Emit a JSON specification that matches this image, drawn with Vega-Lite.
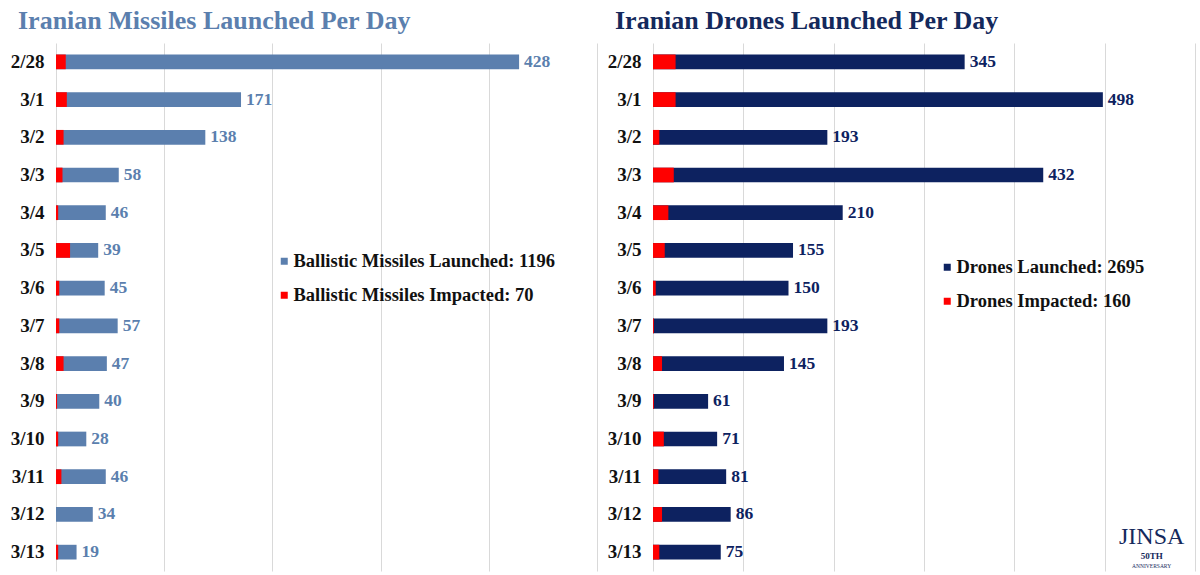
{
  "$schema": "https://vega.github.io/schema/vega-lite/v6.json",
  "description": "Iranian missiles and drones launched per day, with the impacted share in red.",
  "padding": {"left": 6, "right": 5, "top": 8, "bottom": 3},
  "background": "white",
  "data": {
    "values": [
      {"date": "2/28", "missiles": 428, "missiles_impacted": 9, "drones": 345, "drones_impacted": 25},
      {"date": "3/1", "missiles": 171, "missiles_impacted": 10, "drones": 498, "drones_impacted": 25},
      {"date": "3/2", "missiles": 138, "missiles_impacted": 7, "drones": 193, "drones_impacted": 7},
      {"date": "3/3", "missiles": 58, "missiles_impacted": 6, "drones": 432, "drones_impacted": 23},
      {"date": "3/4", "missiles": 46, "missiles_impacted": 2, "drones": 210, "drones_impacted": 17},
      {"date": "3/5", "missiles": 39, "missiles_impacted": 13, "drones": 155, "drones_impacted": 13},
      {"date": "3/6", "missiles": 45, "missiles_impacted": 3, "drones": 150, "drones_impacted": 3},
      {"date": "3/7", "missiles": 57, "missiles_impacted": 3, "drones": 193, "drones_impacted": 1},
      {"date": "3/8", "missiles": 47, "missiles_impacted": 7, "drones": 145, "drones_impacted": 10},
      {"date": "3/9", "missiles": 40, "missiles_impacted": 1, "drones": 61, "drones_impacted": 1},
      {"date": "3/10", "missiles": 28, "missiles_impacted": 2, "drones": 71, "drones_impacted": 12},
      {"date": "3/11", "missiles": 46, "missiles_impacted": 5, "drones": 81, "drones_impacted": 6},
      {"date": "3/12", "missiles": 34, "missiles_impacted": 0, "drones": 86, "drones_impacted": 10},
      {"date": "3/13", "missiles": 19, "missiles_impacted": 2, "drones": 75, "drones_impacted": 7}
    ]
  },
  "spacing": 6,
  "hconcat": [
    {
      "width": 541,
      "height": 528,
      "title": {
        "text": "Iranian Missiles Launched Per Day",
        "color": "#5b7fae",
        "dx": -38
      },
      "encoding": {
        "y": {
          "field": "date",
          "type": "nominal",
          "sort": null,
          "scale": {"paddingInner": 0.61, "paddingOuter": 0.305},
          "axis": {"title": null}
        }
      },
      "layer": [
        {
          "mark": "bar",
          "encoding": {
            "x": {
              "field": "missiles",
              "type": "quantitative",
              "scale": {"domain": [0, 500]},
              "axis": {"values": [0, 100, 200, 300, 400, 500]}
            },
            "color": {
              "datum": "Ballistic Missiles Launched: 1196",
              "type": "nominal",
              "scale": {
                "domain": ["Ballistic Missiles Launched: 1196", "Ballistic Missiles Impacted: 70"],
                "range": ["#5b7fae", "#ff0000"]
              },
              "legend": {"orient": "none", "legendX": 219, "legendY": 209}
            }
          }
        },
        {
          "mark": "bar",
          "encoding": {
            "x": {"field": "missiles_impacted", "type": "quantitative"},
            "color": {"datum": "Ballistic Missiles Impacted: 70", "type": "nominal"}
          }
        },
        {
          "mark": {"type": "text", "align": "left", "baseline": "middle", "dx": 5, "font": "Liberation Serif", "fontWeight": "bold", "fontSize": 17.5, "color": "#5b7fae"},
          "encoding": {
            "x": {"field": "missiles", "type": "quantitative"},
            "text": {"field": "missiles", "type": "quantitative"}
          }
        }
      ]
    },
    {
      "width": 542,
      "height": 528,
      "title": {
        "text": "Iranian Drones Launched Per Day",
        "color": "#14295c",
        "dx": -38
      },
      "encoding": {
        "y": {
          "field": "date",
          "type": "nominal",
          "sort": null,
          "scale": {"paddingInner": 0.61, "paddingOuter": 0.305},
          "axis": {"title": null}
        }
      },
      "layer": [
        {
          "mark": "bar",
          "encoding": {
            "x": {
              "field": "drones",
              "type": "quantitative",
              "scale": {"domain": [0, 600]},
              "axis": {"values": [0, 100, 200, 300, 400, 500, 600]}
            },
            "color": {
              "datum": "Drones Launched: 2695",
              "type": "nominal",
              "scale": {
                "domain": ["Drones Launched: 2695", "Drones Impacted: 160"],
                "range": ["#0d2260", "#ff0000"]
              },
              "legend": {"orient": "none", "legendX": 285, "legendY": 215}
            }
          }
        },
        {
          "mark": "bar",
          "encoding": {
            "x": {"field": "drones_impacted", "type": "quantitative"},
            "color": {"datum": "Drones Impacted: 160", "type": "nominal"}
          }
        },
        {
          "mark": {"type": "text", "align": "left", "baseline": "middle", "dx": 5, "font": "Liberation Serif", "fontWeight": "bold", "fontSize": 17.5, "color": "#0d2260"},
          "encoding": {
            "x": {"field": "drones", "type": "quantitative"},
            "text": {"field": "drones", "type": "quantitative"}
          }
        },
        {
          "data": {"values": [{"logo": "JINSA"}]},
          "mark": {"type": "text", "align": "center", "baseline": "middle", "dy": -15, "font": "Liberation Serif", "fontSize": 24, "color": "#14295c"},
          "encoding": {
            "x": {"datum": 552, "type": "quantitative"},
            "y": {"datum": "3/13", "type": "nominal"},
            "text": {"field": "logo"}
          }
        },
        {
          "data": {"values": [{"logo": "50TH"}]},
          "mark": {"type": "text", "align": "center", "baseline": "middle", "dy": 4, "font": "Liberation Serif", "fontWeight": "bold", "fontSize": 9, "color": "#14295c"},
          "encoding": {
            "x": {"datum": 552, "type": "quantitative"},
            "y": {"datum": "3/13", "type": "nominal"},
            "text": {"field": "logo"}
          }
        },
        {
          "data": {"values": [{"logo": "ANNIVERSARY"}]},
          "mark": {"type": "text", "align": "center", "baseline": "middle", "dy": 14, "font": "Liberation Serif", "fontSize": 5.5, "color": "#14295c"},
          "encoding": {
            "x": {"datum": 552, "type": "quantitative"},
            "y": {"datum": "3/13", "type": "nominal"},
            "text": {"field": "logo"}
          }
        }
      ]
    }
  ],
  "resolve": {
    "scale": {"color": "independent", "x": "independent", "y": "independent"},
    "legend": {"color": "independent"}
  },
  "config": {
    "view": {"stroke": null},
    "title": {
      "font": "Liberation Serif",
      "fontSize": 26,
      "fontWeight": "bold",
      "anchor": "start",
      "frame": "group",
      "baseline": "alphabetic",
      "offset": 9
    },
    "axisX": {
      "labels": false,
      "ticks": false,
      "domain": false,
      "title": null,
      "grid": true,
      "gridColor": "#d9d9d9",
      "gridWidth": 1
    },
    "axisY": {
      "domain": false,
      "ticks": false,
      "grid": false,
      "labelFont": "Liberation Serif",
      "labelFontSize": 19,
      "labelFontWeight": "bold",
      "labelColor": "#111111",
      "labelPadding": 12,
      "minExtent": 50,
      "maxExtent": 50
    },
    "legend": {
      "title": null,
      "symbolType": "square",
      "symbolSize": 49,
      "symbolStrokeWidth": 0,
      "labelFont": "Liberation Serif",
      "labelFontSize": 18.5,
      "labelFontWeight": "bold",
      "labelColor": "#111111",
      "labelLimit": 400,
      "labelOffset": 0,
      "rowPadding": 15,
      "padding": 0
    }
  }
}
